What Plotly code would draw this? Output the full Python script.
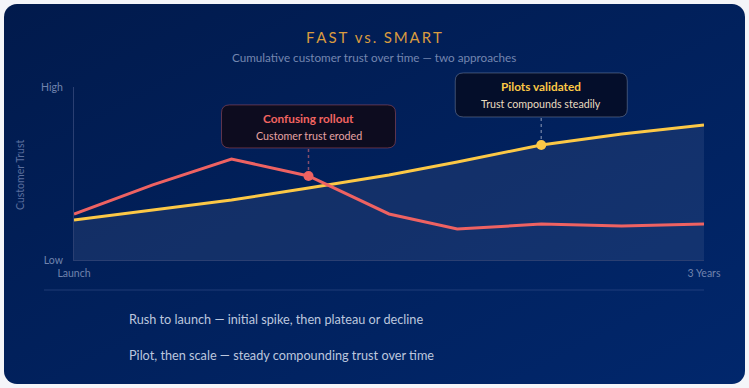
import base64
import plotly.graph_objects as go

# ---- data ----
months = [0, 4.5, 9, 13.4, 18, 21.9, 26.7, 31.3, 36]
rush_trust = [26.6, 43.4, 58.4, 48.6, 26.6, 17.9, 20.8, 19.7, 20.8]
pilot_trust = [23.1, 28.9, 34.7, 41.6, 49.1, 56.6, 66.5, 72.8, 78.0]
y_ticks = [0, 100]
y_tick_labels = ["Low", "High"]
x_ticks = [0, 36]
x_tick_labels = ["Launch", "3 Years"]
rush_note_idx = 3
pilot_note_idx = 6
legend_texts = [
    "Rush to launch \u2014 initial spike, then plateau or decline",
    "Pilot, then scale \u2014 steady compounding trust over time",
]

Y_RANGE = [0, 100]
X_RANGE = [0, 36]

W, H = 749, 388
ML, MR, MT, MB = 74, 45, 87, 128
PW, PH = W - ML - MR, H - MT - MB

def px_x(p):
    return (p - ML) / PW

def px_y(p):
    return (H - MB - p) / PH

def y_paper(v):
    return (v - Y_RANGE[0]) / (Y_RANGE[1] - Y_RANGE[0])

FONT = "Lato"
RED = "#ee6262"
YEL = "#fcc846"

# card background as svg image with gradient
cw, ch = 741, 380
svg = f'''<svg xmlns="http://www.w3.org/2000/svg" width="{cw}" height="{ch}" viewBox="0 0 {cw} {ch}">
<defs><linearGradient id="g" x1="0" y1="0" x2="1" y2="1">
<stop offset="0" stop-color="#011a4c"/><stop offset="1" stop-color="#01276c"/></linearGradient></defs>
<rect x="0" y="0" width="{cw}" height="{ch}" rx="13" ry="13" fill="url(#g)"/></svg>'''
src = "data:image/svg+xml;base64," + base64.b64encode(svg.encode()).decode()

fig = go.Figure()

fig.add_trace(go.Scatter(
    x=months, y=pilot_trust, mode="lines", fill="tozeroy",
    fillcolor="rgba(70,90,140,0.28)",
    line=dict(color=YEL, width=3), hoverinfo="skip", showlegend=False))
fig.add_trace(go.Scatter(
    x=months, y=rush_trust, mode="lines",
    line=dict(color=RED, width=3), hoverinfo="skip", showlegend=False))
fig.add_trace(go.Scatter(
    x=[months[rush_note_idx]], y=[rush_trust[rush_note_idx]], mode="markers",
    marker=dict(color=RED, size=10), hoverinfo="skip", showlegend=False, cliponaxis=False))
fig.add_trace(go.Scatter(
    x=[months[pilot_note_idx]], y=[pilot_trust[pilot_note_idx]], mode="markers",
    marker=dict(color=YEL, size=10), hoverinfo="skip", showlegend=False, cliponaxis=False))

def rounded_path(x0, x1, y0, y1, r):
    # pixel offsets, y positive up; y1 > y0
    return (f"M {x0+r},{y1} L {x1-r},{y1} Q {x1},{y1} {x1},{y1-r} "
            f"L {x1},{y0+r} Q {x1},{y0} {x1-r},{y0} L {x0+r},{y0} "
            f"Q {x0},{y0} {x0},{y0+r} L {x0},{y1-r} Q {x0},{y1} {x0+r},{y1} Z")

shapes = []
annots = []

def callout(xv, yv, half_w, bottom, top, title, sub, tcol, scol, border, fillc, linec):
    ya = y_paper(yv)
    shapes.append(dict(type="line", xref="x", yref="paper", xsizemode="pixel", ysizemode="pixel",
                       xanchor=xv, yanchor=ya, x0=0, x1=0, y0=6, y1=bottom,
                       line=dict(color=linec, width=1.5, dash="dot"), layer="above"))
    shapes.append(dict(type="path", xref="x", yref="paper", xsizemode="pixel", ysizemode="pixel",
                       xanchor=xv, yanchor=ya,
                       path=rounded_path(-half_w, half_w, bottom, top, 8),
                       fillcolor=fillc, line=dict(color=border, width=1), layer="above"))
    annots.append(dict(x=xv, y=yv, xref="x", yref="y", text=f"<b>{title}</b>", showarrow=False,
                       xanchor="center", yanchor="middle",
                       yshift=top - 14, font=dict(family=FONT, size=11.8, color=tcol)))
    annots.append(dict(x=xv, y=yv, xref="x", yref="y", text=sub, showarrow=False,
                       xanchor="center", yanchor="middle",
                       yshift=top - 31, font=dict(family=FONT, size=10.7, color=scol)))

callout(months[rush_note_idx], rush_trust[rush_note_idx], 87, 28, 71,
        "Confusing rollout", "Customer trust eroded",
        "#f26461", "#e6a3a3", "rgba(200,90,100,0.45)", "rgba(14,12,28,0.95)", "rgba(220,110,120,0.6)")
callout(months[pilot_note_idx], pilot_trust[pilot_note_idx], 86, 28, 72,
        "Pilots validated", "Trust compounds steadily",
        "#fcc846", "#e9dcc0", "rgba(140,150,175,0.45)", "rgba(4,14,40,0.95)", "rgba(160,170,195,0.6)")

# separator line
shapes.append(dict(type="line", xref="paper", yref="paper", x0=px_x(44), x1=px_x(704),
                   y0=px_y(290), y1=px_y(290), line=dict(color="rgba(70,95,150,0.45)", width=1)))

# titles
annots.append(dict(xref="paper", yref="paper", x=px_x(374), y=px_y(37),
                   xanchor="center", yanchor="middle",
                   text="F\u2009A\u2009S\u2009T\u2002v\u2009s\u2009.\u2002S\u2009M\u2009A\u2009R\u2009T",
                   showarrow=False, font=dict(family=FONT, size=15, color="#d99b3f")))
annots.append(dict(xref="paper", yref="paper", x=px_x(374), y=px_y(57),
                   xanchor="center", yanchor="middle",
                   text="Cumulative customer trust over time \u2014 two approaches",
                   showarrow=False, font=dict(family=FONT, size=11.7, color="#7486b0")))
annots.append(dict(xref="paper", yref="paper", x=px_x(20), y=px_y(175),
                   xanchor="center", yanchor="middle",
                   text="Customer Trust", textangle=-90, showarrow=False,
                   font=dict(family=FONT, size=10.5, color="#5b6f9e")))
for t, yy in zip(legend_texts, [319, 355]):
    annots.append(dict(xref="paper", yref="paper", x=px_x(127), y=px_y(yy),
                       xanchor="left", yanchor="middle",
                       text=t, showarrow=False, font=dict(family=FONT, size=12.7, color="#bcc7de")))

fig.update_layout(
    width=W, height=H, margin=dict(l=ML, r=MR, t=MT, b=MB),
    paper_bgcolor="#f4f5f9", plot_bgcolor="rgba(0,0,0,0)",
    images=[dict(source=src, xref="paper", yref="paper", x=px_x(4), y=px_y(4),
                 sizex=cw / PW, sizey=ch / PH, sizing="stretch", layer="below",
                 xanchor="left", yanchor="top")],
    shapes=shapes, annotations=annots, showlegend=False,
    xaxis=dict(range=X_RANGE, tickvals=x_ticks, ticktext=x_tick_labels, showgrid=False,
               zeroline=False, showline=True, linecolor="#2a3f72", linewidth=1, ticks="",
               ticklabelstandoff=3,
               tickfont=dict(family=FONT, size=10.5, color="#7083ad"), fixedrange=True),
    yaxis=dict(range=Y_RANGE, tickvals=y_ticks, ticktext=y_tick_labels, showgrid=False,
               zeroline=False, showline=True, linecolor="#2a3f72", linewidth=1, ticks="",
               ticklabelstandoff=8,
               tickfont=dict(family=FONT, size=10.5, color="#7083ad"), fixedrange=True),
)

fig.write_html("out.html", config={"displayModeBar": False},
               post_script="document.body.style.margin='0';document.body.style.background='#f4f5f9';"
                           "document.body.style.overflow='hidden';")
